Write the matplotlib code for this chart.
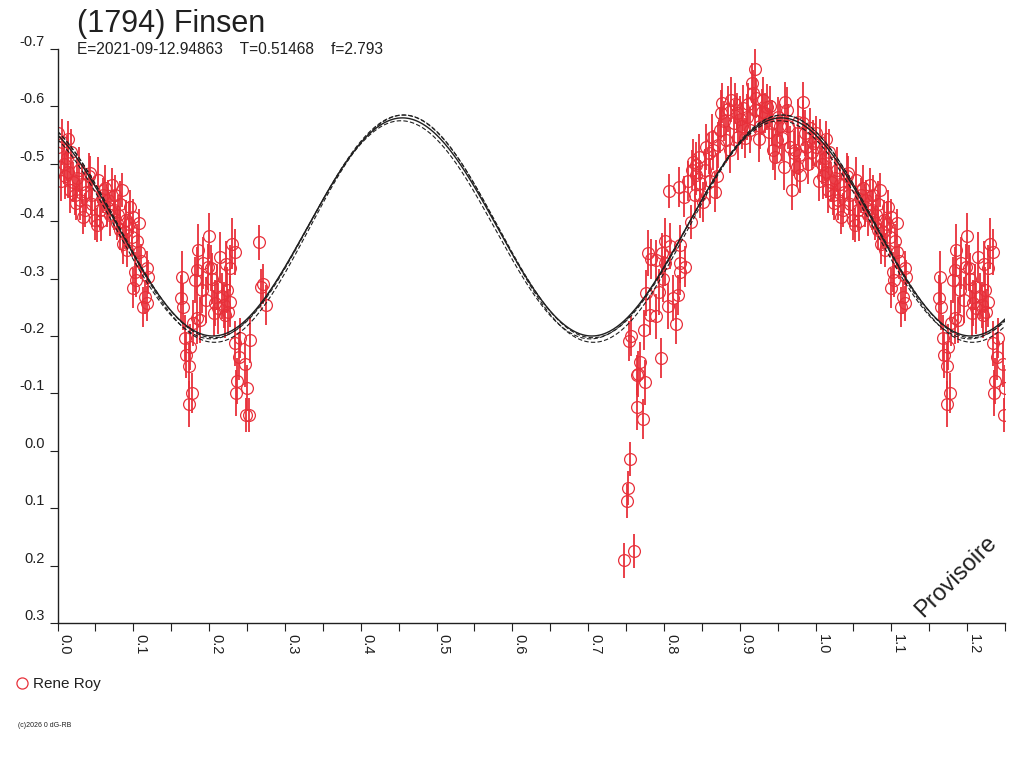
"""
Lightcurve of (1794) Finsen, folded on the synodic period
"""
import matplotlib
matplotlib.use("Agg")
import matplotlib.pyplot as plt
from matplotlib.lines import Line2D
import numpy as np

plt.rcParams['font.family'] = ['Liberation Sans', 'DejaVu Sans']

obs_start = [
    (0.000, -0.554, 0.030), (0.001, -0.530, 0.035), (0.006, -0.538, 0.040),
    (0.014, -0.544, 0.030), (0.010, -0.478, 0.040), (0.008, -0.500, 0.035),
    (0.014, -0.486, 0.045), (0.018, -0.520, 0.040), (0.021, -0.469, 0.035),
    (0.023, -0.446, 0.035), (0.025, -0.432, 0.030), (0.034, -0.408, 0.030),
    (0.030, -0.437, 0.035), (0.028, -0.490, 0.040), (0.041, -0.478, 0.040),
    (0.038, -0.451, 0.035), (0.043, -0.484, 0.030), (0.046, -0.430, 0.040),
    (0.049, -0.402, 0.035), (0.052, -0.393, 0.030), (0.054, -0.472, 0.040),
    (0.056, -0.419, 0.035), (0.060, -0.445, 0.030), (0.063, -0.458, 0.040),
    (0.067, -0.437, 0.035), (0.072, -0.463, 0.030), (0.074, -0.419, 0.035),
    (0.078, -0.397, 0.030), (0.085, -0.454, 0.030), (0.080, -0.411, 0.035),
    (0.083, -0.430, 0.040), (0.089, -0.382, 0.030), (0.091, -0.402, 0.035),
    (0.096, -0.425, 0.030), (0.098, -0.373, 0.035), (0.094, -0.395, 0.040),
    (0.100, -0.408, 0.030), (0.108, -0.397, 0.025), (0.087, -0.361, 0.035),
    (0.107, -0.347, 0.030), (0.102, -0.312, 0.035), (0.118, -0.318, 0.030),
    (0.104, -0.298, 0.030), (0.100, -0.283, 0.035), (0.115, -0.268, 0.030),
    (0.118, -0.257, 0.030), (0.113, -0.251, 0.035), (0.120, -0.303, 0.030),
    (0.110, -0.330, 0.030), (0.105, -0.365, 0.030), (0.004, -0.470, 0.035),
    (0.017, -0.455, 0.040), (0.032, -0.465, 0.035), (0.036, -0.420, 0.030),
    (0.058, -0.400, 0.035), (0.069, -0.410, 0.035), (0.076, -0.445, 0.035),
    (0.012, -0.510, 0.040), (0.026, -0.475, 0.035), (0.044, -0.445, 0.035),
    (0.065, -0.425, 0.035), (0.082, -0.385, 0.035), (0.092, -0.350, 0.030),
]

obs_minimum = [
    (0.200, -0.375, 0.040), (0.185, -0.350, 0.045), (0.184, -0.315, 0.040),
    (0.181, -0.298, 0.040), (0.192, -0.327, 0.045), (0.199, -0.321, 0.040),
    (0.203, -0.318, 0.040), (0.214, -0.337, 0.045), (0.190, -0.280, 0.040),
    (0.210, -0.286, 0.040), (0.208, -0.257, 0.040), (0.206, -0.240, 0.040),
    (0.212, -0.248, 0.045), (0.219, -0.254, 0.040), (0.221, -0.237, 0.040),
    (0.223, -0.280, 0.040), (0.228, -0.260, 0.045), (0.225, -0.242, 0.040),
    (0.230, -0.361, 0.045), (0.234, -0.347, 0.040), (0.228, -0.318, 0.040),
    (0.164, -0.303, 0.045), (0.163, -0.266, 0.040), (0.165, -0.250, 0.040),
    (0.168, -0.196, 0.040), (0.175, -0.181, 0.040), (0.170, -0.167, 0.040),
    (0.174, -0.147, 0.040), (0.178, -0.101, 0.035), (0.173, -0.081, 0.040),
    (0.184, -0.231, 0.045), (0.188, -0.228, 0.040), (0.179, -0.222, 0.040),
    (0.234, -0.187, 0.040), (0.241, -0.196, 0.035), (0.254, -0.193, 0.040),
    (0.239, -0.164, 0.040), (0.247, -0.152, 0.040), (0.237, -0.122, 0.040),
    (0.250, -0.109, 0.040), (0.236, -0.100, 0.040), (0.249, -0.062, 0.030),
    (0.252, -0.062, 0.030), (0.266, -0.363, 0.030), (0.271, -0.290, 0.035),
    (0.269, -0.286, 0.030), (0.275, -0.254, 0.035), (0.196, -0.262, 0.040),
    (0.217, -0.270, 0.040), (0.204, -0.300, 0.045), (0.222, -0.325, 0.040),
]

obs_rise = [
    (0.836, -0.399, 0.030), (0.779, -0.344, 0.040), (0.783, -0.334, 0.035),
    (0.801, -0.366, 0.040), (0.798, -0.344, 0.035), (0.808, -0.356, 0.040),
    (0.821, -0.359, 0.035), (0.828, -0.321, 0.035), (0.821, -0.312, 0.040),
    (0.801, -0.327, 0.040), (0.799, -0.299, 0.040), (0.776, -0.275, 0.040),
    (0.793, -0.277, 0.040), (0.818, -0.271, 0.035), (0.812, -0.266, 0.040),
    (0.806, -0.252, 0.040), (0.782, -0.237, 0.035), (0.790, -0.234, 0.040),
    (0.816, -0.221, 0.035), (0.774, -0.210, 0.035), (0.756, -0.200, 0.035),
    (0.754, -0.192, 0.035), (0.768, -0.155, 0.035), (0.796, -0.161, 0.035),
    (0.766, -0.134, 0.040), (0.765, -0.132, 0.035), (0.775, -0.119, 0.040),
    (0.765, -0.076, 0.040), (0.772, -0.055, 0.035), (0.755, 0.014, 0.030),
    (0.752, 0.065, 0.030), (0.751, 0.087, 0.030), (0.761, 0.175, 0.030),
    (0.747, 0.191, 0.030), (0.790, -0.332, 0.035), (0.821, -0.327, 0.035),
]

obs_maximum = [
    (0.807, -0.453, 0.030), (0.820, -0.460, 0.035), (0.826, -0.443, 0.035),
    (0.839, -0.504, 0.040), (0.837, -0.489, 0.035), (0.843, -0.498, 0.040),
    (0.843, -0.480, 0.035), (0.848, -0.466, 0.040), (0.848, -0.446, 0.040),
    (0.852, -0.434, 0.035), (0.841, -0.446, 0.035), (0.856, -0.530, 0.040),
    (0.859, -0.518, 0.035), (0.863, -0.547, 0.040), (0.867, -0.451, 0.035),
    (0.870, -0.478, 0.040), (0.865, -0.524, 0.035), (0.874, -0.559, 0.040),
    (0.875, -0.588, 0.040), (0.876, -0.606, 0.035), (0.882, -0.541, 0.040),
    (0.887, -0.524, 0.040), (0.889, -0.612, 0.040), (0.892, -0.571, 0.040),
    (0.898, -0.547, 0.040), (0.897, -0.588, 0.035), (0.903, -0.565, 0.040),
    (0.905, -0.597, 0.040), (0.909, -0.582, 0.040), (0.911, -0.605, 0.035),
    (0.914, -0.559, 0.040), (0.916, -0.641, 0.035), (0.918, -0.624, 0.040),
    (0.920, -0.666, 0.035), (0.920, -0.594, 0.040), (0.922, -0.614, 0.035),
    (0.925, -0.544, 0.040), (0.927, -0.565, 0.040), (0.931, -0.611, 0.040),
    (0.933, -0.588, 0.035), (0.936, -0.599, 0.040), (0.938, -0.556, 0.040),
    (0.942, -0.571, 0.040), (0.944, -0.524, 0.035), (0.947, -0.512, 0.040),
    (0.949, -0.541, 0.040), (0.951, -0.582, 0.035), (0.953, -0.565, 0.040),
    (0.958, -0.495, 0.040), (0.960, -0.608, 0.035), (0.962, -0.594, 0.040),
    (0.964, -0.565, 0.040), (0.969, -0.454, 0.035), (0.971, -0.518, 0.040),
    (0.973, -0.524, 0.040), (0.975, -0.495, 0.035), (0.977, -0.573, 0.040),
    (0.983, -0.608, 0.035), (0.984, -0.571, 0.040), (0.986, -0.553, 0.040),
    (0.993, -0.562, 0.035), (0.997, -0.536, 0.040), (0.990, -0.500, 0.035),
    (0.995, -0.520, 0.030), (0.980, -0.480, 0.030), (0.978, -0.515, 0.035),
    (0.832, -0.470, 0.035), (0.846, -0.512, 0.040), (0.854, -0.490, 0.035),
    (0.861, -0.470, 0.040), (0.872, -0.532, 0.040), (0.879, -0.575, 0.035),
    (0.885, -0.596, 0.040), (0.894, -0.605, 0.035), (0.900, -0.578, 0.040),
    (0.907, -0.545, 0.035), (0.929, -0.590, 0.040), (0.940, -0.600, 0.035),
    (0.956, -0.545, 0.040), (0.967, -0.530, 0.035), (0.988, -0.530, 0.040),
]

# fourier fit: mean, amplitude, phase of peak (solid + dashed error envelope)
fit_solid = (-0.390, 0.190, 0.455)
fit_dashed = [(-0.387, 0.198, 0.457), (-0.385, 0.190, 0.453), (-0.391, 0.194, 0.456)]

x_ticks = [0.0, 0.1, 0.2, 0.3, 0.4, 0.5, 0.6, 0.7, 0.8, 0.9, 1.0, 1.1, 1.2]
y_ticks = [-0.7, -0.6, -0.5, -0.4, -0.3, -0.2, -0.1, 0.0, 0.1, 0.2, 0.3]

title = "(1794) Finsen"
subtitle = "E=2021-09-12.94863    T=0.51468    f=2.793"
observer = "Rene Roy"

red = "#e8303a"
ink = "#202020"

obs = np.array(obs_start + obs_minimum + obs_rise + obs_maximum)
phase, mag, err = obs[:, 0], obs[:, 1], obs[:, 2]
# the plot repeats the first quarter of the cycle past phase 1
wrap = phase <= 0.25
phase = np.concatenate([phase, phase[wrap] + 1.0])
mag = np.concatenate([mag, mag[wrap]])
err = np.concatenate([err, err[wrap]])

fig = plt.figure(figsize=(10.24, 7.68), dpi=100)
ax = fig.add_axes([57.5 / 1024, 1 - 623 / 768, (1005 - 57.5) / 1024, (623 - 49) / 768])

ax.errorbar(phase, mag, yerr=err, fmt='o', mfc='none', mec=red, ecolor=red,
            ms=8.5, mew=0.9, elinewidth=1.3, capsize=0, zorder=2)


def fit_curve(p, params):
    mean, amp, peak = params
    return mean - amp * np.cos(4 * np.pi * (p - peak))


grid = np.linspace(0, 1.25, 800)
for params in fit_dashed:
    ax.plot(grid, fit_curve(grid, params), color=ink, lw=0.8, ls=(0, (4, 2)), zorder=3)
ax.plot(grid, fit_curve(grid, fit_solid), color=ink, lw=1.0, zorder=3)

ax.set_xlim(0, 1.25)
ax.set_ylim(0.3, -0.7)

for side in ['top', 'right']:
    ax.spines[side].set_visible(False)
for side in ['left', 'bottom']:
    ax.spines[side].set_color(ink)
    ax.spines[side].set_linewidth(1.0)

ax.set_xticks(x_ticks)
ax.set_xticklabels([f"{v:.1f}" for v in x_ticks], rotation=-90, ha='left', va='top')
ax.set_xticks(np.array(x_ticks) + 0.05, minor=True)
ax.set_yticks(y_ticks)
ax.set_yticklabels([f"{abs(v):.1f}" if v == 0 else f"{v:.1f}" for v in y_ticks])
for lab in ax.get_yticklabels():
    lab.set_va('bottom')

ax.tick_params(which='both', direction='out', length=6, width=0.8, color=ink,
               labelcolor=ink, labelsize=10.5)
ax.tick_params(axis='y', pad=3)
ax.tick_params(axis='x', which='both', pad=2)

fig.text(77 / 1024, 1 - 32 / 768, title, fontsize=22, color=ink, va='baseline')
fig.text(77 / 1024, 1 - 54 / 768, subtitle, fontsize=11.2, color=ink, va='baseline')

fig.add_artist(Line2D([22 / 1024], [1 - 683 / 768], transform=fig.transFigure,
                      marker='o', ls='none', mfc='none', mec=red, ms=8, mew=0.9))
fig.text(33 / 1024, 1 - 688 / 768, observer, fontsize=11, color=ink, va='baseline')
fig.text(18 / 1024, 1 - 727 / 768, "(c)2026 0 dG-RB", fontsize=5, color=ink, va='baseline')

fig.text(956 / 1024, 1 - 577 / 768, "Provisoire", fontsize=17, color=ink,
         rotation=45, ha='center', va='center')

fig.savefig("out.png", dpi=100)
